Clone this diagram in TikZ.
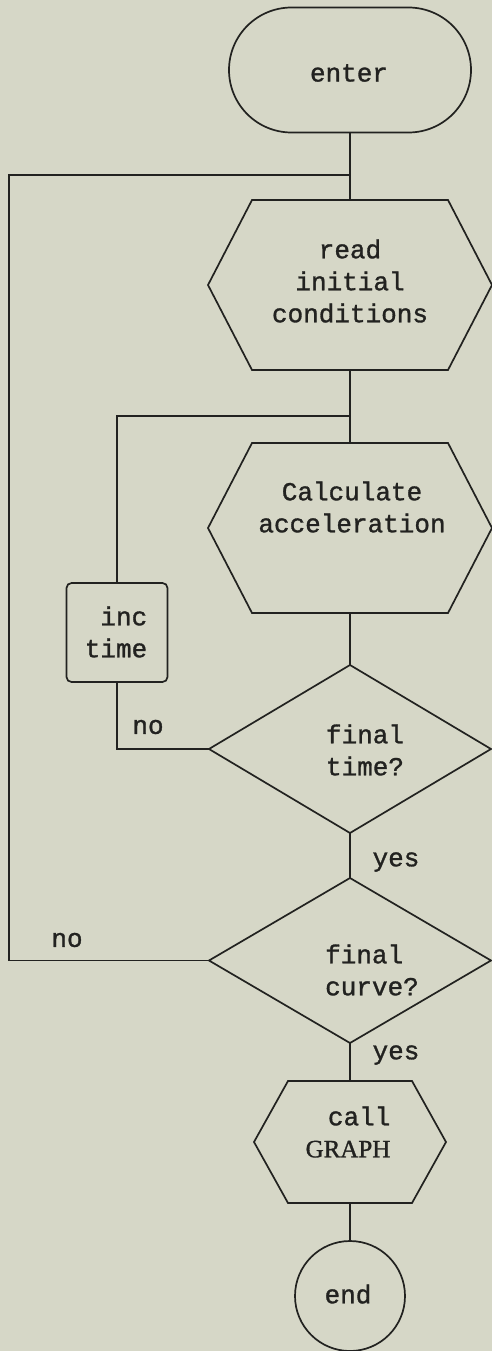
\documentclass[tikz,border=0pt]{standalone}
\usepackage{fontspec}
\setmonofont[FakeBold=1.2,AutoFakeBold=1.2]{Liberation Mono}
\newfontfamily\capserif[FakeBold=1.2]{Liberation Serif}
\usetikzlibrary{shapes.misc,shapes.geometric}
\definecolor{paper}{RGB}{214,215,199}
\definecolor{ink}{RGB}{34,34,32}

% outline of a flat hexagon drawn on a named (invisible) box node
\newcommand\hexoutline[2]{%
  \draw ([xshift=#2]#1.north west) -- ([xshift=-#2]#1.north east) -- (#1.east)
     -- ([xshift=-#2]#1.south east) -- ([xshift=#2]#1.south west) -- (#1.west) -- cycle;}

\begin{document}
\begin{tikzpicture}[x=1pt,y=-1pt,line width=1.7pt,draw=ink,
  every node/.style={inner sep=0pt,outer sep=0pt},
  txt/.style={font=\ttfamily\fontsize{26}{32}\selectfont,text=ink,align=center},
  hexbox/.style={rectangle,minimum width=#1},
  flowline/.style={draw=ink,line width=1.7pt}]

  \fill[paper] (0,0) rectangle (492,1351);
  \useasboundingbox (0,0) rectangle (492,1351);

  % shapes
  \node[rounded rectangle,draw,minimum width=242pt,minimum height=125pt] (enter) at (350,70) {};
  \node[hexbox=284pt,minimum height=170pt] (read) at (350,285) {};
  \node[hexbox=284pt,minimum height=170pt] (calc) at (350,528) {};
  \node[rectangle,draw,rounded corners=5pt,minimum width=101pt,minimum height=99pt] (inc) at (117,632.5) {};
  \node[diamond,draw,minimum width=282pt,minimum height=168pt] (d1) at (350,749) {};
  \node[diamond,draw,minimum width=282pt,minimum height=165pt] (d2) at (350,960.5) {};
  \node[hexbox=192pt,minimum height=122pt] (call) at (350,1142) {};
  \node[circle,draw,minimum size=110pt] (end) at (350,1296) {};
  \hexoutline{read}{44pt}
  \hexoutline{calc}{44pt}
  \hexoutline{call}{34pt}

  % texts
  \node[txt] (enter-t) at (349,73) {enter};
  \node[txt] (read-t) at (350,281) {read\\initial\\conditions};
  \node[txt] (calc-t) at (352,507) {Calculate\\acceleration};
  \node[txt,align=right] (inc-t) at (116,632) {inc\\time};
  \node[txt,align=left] (d1-t) at (365,750) {final\\time?};
  \node[txt,align=left] (d2-t) at (372,970) {final\\curve?};
  \node[txt,align=right] (call-t) at (348,1132) {call\\{\capserif\fontsize{25}{32}\selectfont GRAPH}};
  \node[txt] (end-t) at (348,1294) {end};
  \node[txt] (no1) at (148,727) {no};
  \node[txt] (no2) at (67,940) {no};
  \node[txt] (yes1) at (396,862) {yes};
  \node[txt] (yes2) at (396,1055) {yes};

  % junctions of the two loops
  \coordinate (j1) at (350,175);
  \coordinate (j2) at (350,416);
  \coordinate (lp) at (9,175);

  % main flow
  \draw[flowline] (enter.south) -- (read.north);
  \draw[flowline] (read.south) -- (calc.north);
  \draw[flowline] (calc.south) -- (d1.north);
  \draw[flowline] (d1.south) -- (d2.north);
  \draw[flowline] (d2.south) -- (call.north);
  \draw[flowline] (call.south) -- (end.north);

  % inner loop: final time? no -> inc time -> calculate
  \draw[flowline] (d1.west) -| (inc.south);
  \draw[flowline] (inc.north) |- (j2);

  % outer loop: final curve? no -> read initial conditions
  \draw[flowline] (d2.west) -| (lp) -- (j1);
\end{tikzpicture}
\end{document}
